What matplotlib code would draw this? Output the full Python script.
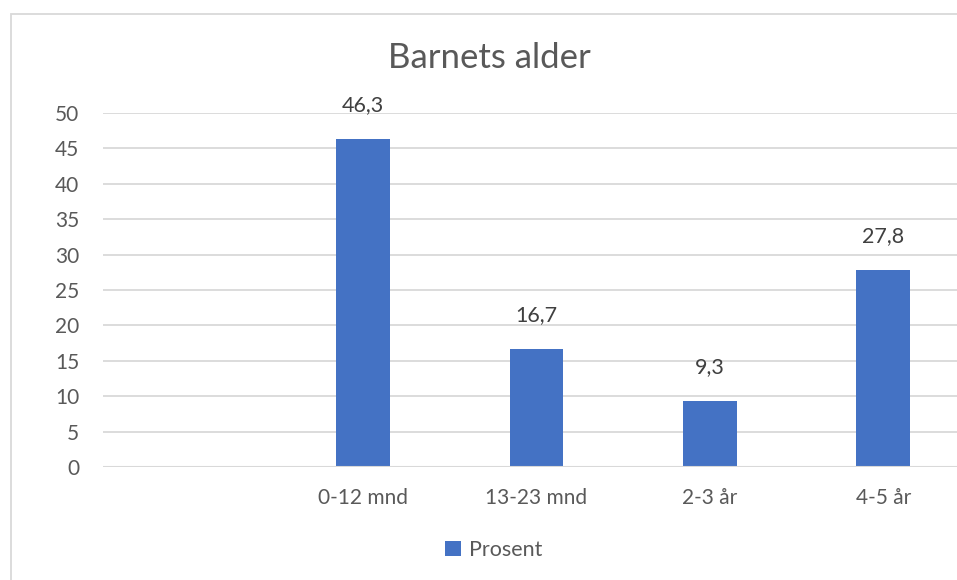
import matplotlib
matplotlib.use("Agg")
import matplotlib.pyplot as plt
from matplotlib.patches import Rectangle

categories = ["", "0-12 mnd", "13-23 mnd", "2-3 år", "4-5 år"]
values = [None, 46.3, 16.7, 9.3, 27.8]
series_name = "Prosent"
title = "Barnets alder"
yticks = [0, 5, 10, 15, 20, 25, 30, 35, 40, 45, 50]

BAR = "#4472C4"
GRID = "#D9D9D9"
TEXT = "#595959"

plt.rcParams["font.family"] = ["Lato", "DejaVu Sans"]

W, H = 957, 580
fig = plt.figure(figsize=(W / 100, H / 100), dpi=100)

# chart frame (extends past right and bottom edges)
fig.add_artist(Rectangle((10.5 / W, -0.1), 1.2, 1.1 - 14.5 / H,
                         transform=fig.transFigure, fill=False,
                         edgecolor=GRID, linewidth=1.3))

x0, x1 = 103, 970
y0, y1 = 467, 113
ax = fig.add_axes([x0 / W, 1 - y0 / H, (x1 - x0) / W, (y0 - y1) / H])

xs = list(range(len(categories)))
bx = [x for x, v in zip(xs, values) if v is not None]
bv = [v for v in values if v is not None]
bars = ax.bar(bx, bv, width=0.31, color=BAR, zorder=3, label=series_name)

for x, v in zip(bx, bv):
    ax.annotate(f"{v:.1f}".replace(".", ","), (x, v), xytext=(0, 17),
                textcoords="offset points", ha="center", va="bottom",
                fontsize=15.5, color="#404040")

ax.set_xlim(-0.5, len(categories) - 0.5)
ax.set_ylim(0, 50)
ax.set_yticks(yticks)
ax.set_xticks(xs)
ax.set_xticklabels(categories)
ax.yaxis.grid(True, color=GRID, linewidth=1.3, zorder=0)
ax.set_axisbelow(True)
for s in ax.spines.values():
    s.set_visible(False)
ax.axhline(0, color=GRID, linewidth=1.5, zorder=4)
ax.tick_params(axis="both", length=0, labelsize=15, labelcolor=TEXT)
ax.tick_params(axis="y", pad=17)
ax.tick_params(axis="x", pad=15)

fig.text(489 / W, 1 - 58 / H, title, ha="center", va="center",
         fontsize=25, color=TEXT)

fig.legend(handles=[bars], labels=[series_name], loc="center",
           bbox_to_anchor=(494 / W, 1 - 550 / H), frameon=False,
           fontsize=15.5, labelcolor=TEXT, handlelength=0.7,
           handleheight=0.7, handletextpad=0.4)

fig.savefig("out.png", dpi=100, facecolor="white")
